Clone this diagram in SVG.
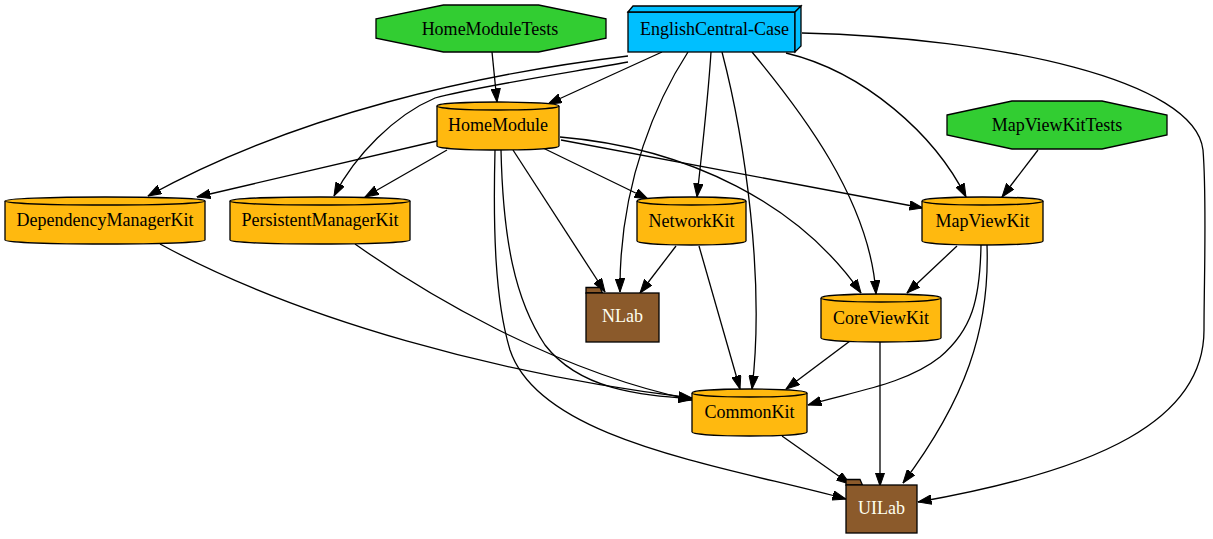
<svg xmlns="http://www.w3.org/2000/svg" width="1213" height="539" viewBox="0 0 1213 539">
<style>
  .lbl { font-family: "Liberation Serif", "Times New Roman", serif; font-size: 18px; text-anchor: middle; fill: #000; }
  .wl { fill: #fffff0; }
  .cyl { fill: #ffb90f; stroke: #000; stroke-width: 1.3; }
  .oct { fill: #32cd32; stroke: #000; stroke-width: 1.3; }
  .box { fill: #00bfff; stroke: #000; stroke-width: 1.3; stroke-linejoin: miter; }
  .fold { fill: #8b5a2b; stroke: #000; stroke-width: 1.3; }
  .e { fill: none; stroke: #000; stroke-width: 1.3; marker-end: url(#arr); }
</style>
<defs>
  <marker id="arr" markerUnits="userSpaceOnUse" markerWidth="14" markerHeight="10" refX="13.5" refY="5" orient="auto" viewBox="0 0 14 10">
    <path d="M0,0.3 L13.5,5 L0,9.7 Z" fill="#000" stroke="#000" stroke-width="1"/>
  </marker>
</defs>
<rect width="1213" height="539" fill="#fff"/>

<g id="edges">
  <path class="e" d="M662,52 L548,104"/>
  <path class="e" d="M492,52 L497,102"/>
  <path class="e" d="M628,56 C478,74 297,114 148,196"/>
  <path class="e" d="M628,62 C560,74 470,88 435,98 C395,115 355,155 334,196"/>
  <path class="e" d="M437,141 L197,197"/>
  <path class="e" d="M447,150 L365,197"/>
  <path class="e" d="M688,52 C660,95 619,180 620,292"/>
  <path class="e" d="M711,52 C708,100 702,150 697,197"/>
  <path class="e" d="M722,52 C745,140 765,280 752,389"/>
  <path class="e" d="M752,52 C800,110 870,200 876,294"/>
  <path class="e" d="M786,53 C865,72 935,135 966,197"/>
  <path class="e" d="M802,33 C1000,38 1195,80 1203,150 C1207,200 1204,280 1204,330 C1204,420 1100,470 918,502"/>
  <path class="e" d="M543,148 L648,199"/>
  <path class="e" d="M561,140 L923,208"/>
  <path class="e" d="M560,137 C690,148 800,205 861,293"/>
  <path class="e" d="M513,150 L605,292"/>
  <path class="e" d="M676,246 L640,293"/>
  <path class="e" d="M699,246 L740,389"/>
  <path class="e" d="M495,150 C493,230 495,300 510,350 C540,440 720,465 846,499"/>
  <path class="e" d="M501,150 C503,240 515,300 545,345 C580,390 640,395 692,399"/>
  <path class="e" d="M160,244 C300,320 500,375 692,398"/>
  <path class="e" d="M355,244 C420,290 550,370 692,400"/>
  <path class="e" d="M850,341 L786,389"/>
  <path class="e" d="M880,342 L880,486"/>
  <path class="e" d="M957,246 L907,293"/>
  <path class="e" d="M981,245 C980,300 972,330 940,357 C905,385 850,392 808,405"/>
  <path class="e" d="M987,245 C990,330 965,400 903,483"/>
  <path class="e" d="M782,436 L850,484"/>
  <path class="e" d="M1038,150 L1002,197"/>
</g>

<g id="EnglishCentral-Case">
  <rect class="box" x="628" y="12" width="167" height="40"/>
  <path class="box" d="M628,12 L633,6 L801,6 L795,12 Z"/>
  <path class="box" d="M795,12 L801,6 L801,46 L795,52 Z"/>
  <text class="lbl" x="714.5" y="34.5">EnglishCentral-Case</text>
</g>

<g id="HomeModuleTests">
  <polygon class="oct" points="376,18.8 443.4,5 538.6,5 606,18.8 606,38.2 538.6,52 443.4,52 376,38.2"/>
  <text class="lbl" x="490" y="34.5">HomeModuleTests</text>
</g>

<g id="MapViewKitTests">
  <polygon class="oct" points="947,115 1012,101 1102,101 1167,115 1167,135 1102,149 1012,149 947,135"/>
  <text class="lbl" x="1057" y="130.5">MapViewKitTests</text>
</g>

<g id="HomeModule">
  <path class="cyl" d="M437,106 L437,146 A61,4 0 0 0 559,146 L559,106 A61,4 0 0 0 437,106 Z"/>
  <path class="cyl" fill="none" d="M437,106 A61,4 0 0 0 559,106"/>
  <text class="lbl" x="498" y="131">HomeModule</text>
</g>

<g id="DependencyManagerKit">
  <path class="cyl" d="M5,201 L5,240 A100,4 0 0 0 205,240 L205,201 A100,4 0 0 0 5,201 Z"/>
  <path class="cyl" d="M5,201 A100,4 0 0 0 205,201"/>
  <text class="lbl" x="105" y="226">DependencyManagerKit</text>
</g>

<g id="PersistentManagerKit">
  <path class="cyl" d="M230,201 L230,240 A90,4 0 0 0 410,240 L410,201 A90,4 0 0 0 230,201 Z"/>
  <path class="cyl" d="M230,201 A90,4 0 0 0 410,201"/>
  <text class="lbl" x="320" y="226">PersistentManagerKit</text>
</g>

<g id="NetworkKit">
  <path class="cyl" d="M637,201 L637,241 A54.5,4 0 0 0 746,241 L746,201 A54.5,4 0 0 0 637,201 Z"/>
  <path class="cyl" d="M637,201 A54.5,4 0 0 0 746,201"/>
  <text class="lbl" x="691.5" y="226.5">NetworkKit</text>
</g>

<g id="MapViewKit">
  <path class="cyl" d="M922,201 L922,241 A60.5,4 0 0 0 1043,241 L1043,201 A60.5,4 0 0 0 922,201 Z"/>
  <path class="cyl" d="M922,201 A60.5,4 0 0 0 1043,201"/>
  <text class="lbl" x="982.5" y="226.5">MapViewKit</text>
</g>

<g id="CoreViewKit">
  <path class="cyl" d="M821,298 L821,338 A60,4 0 0 0 941,338 L941,298 A60,4 0 0 0 821,298 Z"/>
  <path class="cyl" d="M821,298 A60,4 0 0 0 941,298"/>
  <text class="lbl" x="881" y="324">CoreViewKit</text>
</g>

<g id="CommonKit">
  <path class="cyl" d="M692,393 L692,432 A57.5,4 0 0 0 807,432 L807,393 A57.5,4 0 0 0 692,393 Z"/>
  <path class="cyl" d="M692,393 A57.5,4 0 0 0 807,393"/>
  <text class="lbl" x="749.5" y="418">CommonKit</text>
</g>

<g id="NLab">
  <path class="fold" d="M586,293 L586,287.5 L600,287.5 L602.5,293 Z"/>
  <rect class="fold" x="586" y="293" width="73" height="49"/>
  <text class="lbl wl" x="622.5" y="322">NLab</text>
</g>

<g id="UILab">
  <path class="fold" d="M846,485 L846,479.5 L860,479.5 L862.5,485 Z"/>
  <rect class="fold" x="846" y="485" width="71" height="48"/>
  <text class="lbl wl" x="881.5" y="514">UILab</text>
</g>
</svg>
